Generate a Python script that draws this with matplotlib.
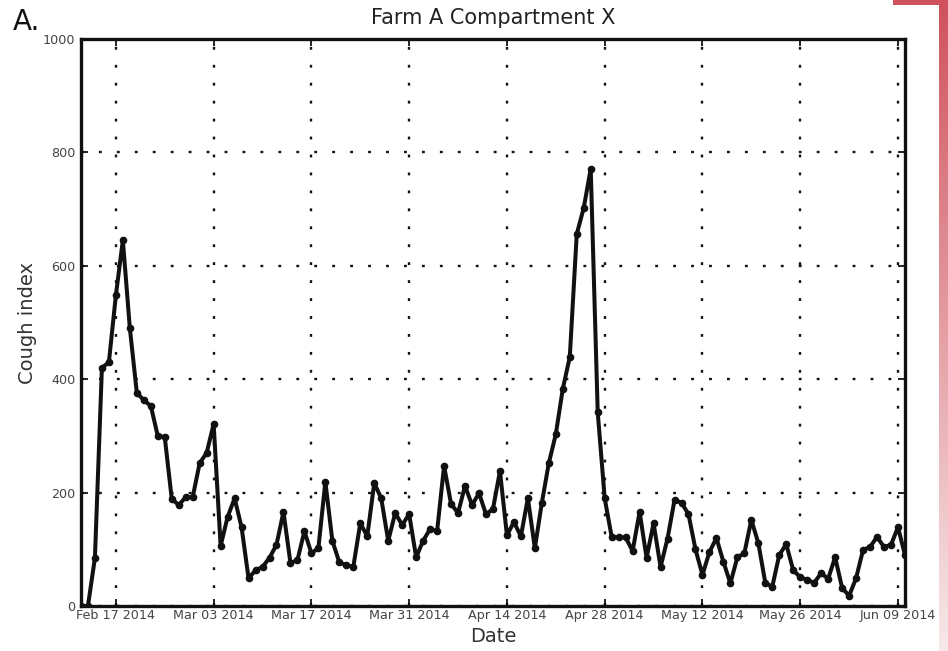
import numpy as np
import pandas as pd
import matplotlib
matplotlib.use('Agg')
import matplotlib.pyplot as plt
import matplotlib.dates as mdates

# daily cough index, Feb 12 2014 .. Jun 10 2014
start_date = '2014-02-12'
cough = [0, 0, 85, 420, 430, 548, 645, 490, 376, 363,
         353, 300, 298, 189, 178, 192, 192, 252, 270, 321,
         106, 157, 190, 139, 49, 63, 69, 85, 108, 166,
         76, 81, 132, 93, 102, 219, 115, 77, 72, 69,
         146, 123, 217, 190, 115, 164, 143, 162, 86, 115,
         136, 132, 247, 180, 164, 212, 178, 199, 162, 171,
         238, 125, 148, 123, 190, 102, 182, 252, 303, 383,
         439, 656, 702, 771, 342, 190, 122, 121, 121, 97,
         166, 85, 146, 69, 119, 187, 182, 162, 100, 55,
         95, 120, 78, 40, 86, 93, 152, 111, 41, 34,
         90, 109, 63, 51, 46, 41, 58, 48, 86, 32,
         18, 49, 99, 104, 122, 104, 108, 139, 90]
dates = pd.date_range(start_date, periods=len(cough), freq='D')
tick_dates = pd.date_range('2014-02-17', '2014-06-09', freq='14D')
y_ticks = [0, 200, 400, 600, 800, 1000]

fig = plt.figure(figsize=(9.48, 6.51), dpi=100)
ax = fig.add_axes([0.0854, 0.0691, 0.8692, 0.8710])

ax.plot(dates, cough, color='#111111', lw=2.9, marker='o', ms=4.5,
        mec='#111111', mfc='#111111', zorder=3)

ax.set_xlim(dates[0], dates[-1])
ax.set_ylim(0, 1000)
ax.set_xticks(tick_dates)
ax.xaxis.set_major_formatter(mdates.DateFormatter('%b %d %Y'))
ax.set_yticks(y_ticks)

ax.grid(True, color='#111111', linestyle=(0, (1.2, 6.4)), lw=1.7)
ax.tick_params(direction='in', length=5, width=1.2, top=True, right=True,
               labelsize=9.2, labelcolor='#444444')
ax.tick_params(axis='x', pad=2)
ax.tick_params(axis='y', pad=4)
for s in ax.spines.values():
    s.set_linewidth(2.4)
    s.set_color('#111111')

ax.set_title('Farm A Compartment X', fontsize=15, color='#222222', pad=11)
ax.set_xlabel('Date', fontsize=14, color='#333333', labelpad=4)
ax.set_ylabel('Cough index', fontsize=14, color='#333333', labelpad=4)
fig.text(0.014, 0.966, 'A.', fontsize=20, color='#111111', ha='left', va='center')

# slide decoration on the right edge
bar = fig.add_axes([939 / 948, 0, 9 / 948, 1])
grad = np.linspace(0, 1, 256).reshape(-1, 1)
cmap = matplotlib.colors.LinearSegmentedColormap.from_list('r', ['#d0525c', '#f7e9ea'])
bar.imshow(grad, aspect='auto', cmap=cmap, extent=[0, 1, 0, 1], origin='upper')
bar.set_axis_off()
top = fig.add_axes([893 / 948, 1 - 5 / 651, 55 / 948, 5 / 651])
top.set_facecolor('#d0525c')
top.set_xticks([])
top.set_yticks([])
for s in top.spines.values():
    s.set_visible(False)

fig.savefig('out.png', dpi=100)
